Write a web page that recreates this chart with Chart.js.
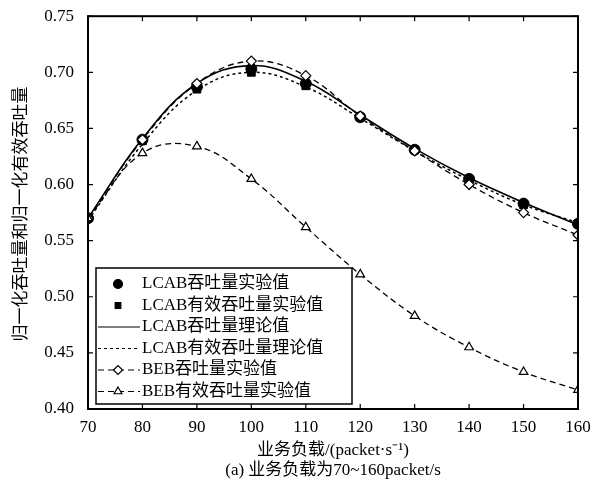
<!DOCTYPE html>
<html>
<head>
<meta charset="utf-8">
<script src="https://cdn.jsdelivr.net/npm/chart.js@4.4.0/dist/chart.umd.min.js"></script>
<style>
  html, body { margin: 0; padding: 0; background: #fff; }
  #wrap { width: 616px; height: 488px; }
</style>
</head>
<body>
<div id="wrap"><canvas id="chart" width="616" height="488"></canvas></div>
<script>
const loads = [70, 80, 90, 100, 110, 120, 130, 140, 150, 160];
const lcabExp = [0.570, 0.640, 0.687, 0.703, 0.690, 0.660, 0.631, 0.605, 0.583, 0.565];
const lcabEffExp = [0.570, 0.639, 0.685, 0.700, 0.688, 0.660, 0.631, 0.605, 0.582, 0.565];
const lcabTheory = [0.570, 0.641, 0.690, 0.706, 0.692, 0.662, 0.632, 0.606, 0.584, 0.564];
const lcabEffTheory = [0.568, 0.636, 0.684, 0.700, 0.687, 0.659, 0.630, 0.604, 0.582, 0.566];
const bebExp = [0.570, 0.640, 0.690, 0.710, 0.697, 0.661, 0.630, 0.600, 0.575, 0.555];
const bebEffExp = [0.570, 0.628, 0.634, 0.605, 0.562, 0.520, 0.483, 0.455, 0.433, 0.417];

const yTicks = [0.40, 0.45, 0.50, 0.55, 0.60, 0.65, 0.70, 0.75];
const xTicks = [70, 80, 90, 100, 110, 120, 130, 140, 150, 160];

const FONT = '"Liberation Serif", "Noto Sans CJK SC", serif';
const pts = arr => loads.map((x, i) => ({ x: x, y: arr[i] }));

const legendItems = [
    { text: 'LCAB吞吐量实验值', marker: 'circle', fill: '#000', line: null },
    { text: 'LCAB有效吞吐量实验值', marker: 'rect', fill: '#000', line: null },
    { text: 'LCAB吞吐量理论值', marker: null, line: [] },
    { text: 'LCAB有效吞吐量理论值', marker: null, line: [3, 3] },
    { text: 'BEB吞吐量实验值', marker: 'rectRot', fill: '#fff', line: [6, 4] },
    { text: 'BEB有效吞吐量实验值', marker: 'triangle', fill: '#fff', line: [6, 4] }
];

const framePlugin = {
    id: 'frame',
    afterDraw(chart) {
        const ctx = chart.ctx;
        const a = chart.chartArea;
        const xs = chart.scales.x, ys = chart.scales.y;
        ctx.save();
        ctx.strokeStyle = '#000';
        ctx.lineWidth = 2;
        ctx.strokeRect(a.left, a.top, a.right - a.left, a.bottom - a.top);
        ctx.lineWidth = 1.2;
        ctx.beginPath();
        xTicks.forEach(v => {
            const px = xs.getPixelForValue(v);
            ctx.moveTo(px, a.bottom); ctx.lineTo(px, a.bottom - 5);
            ctx.moveTo(px, a.top); ctx.lineTo(px, a.top + 5);
        });
        yTicks.forEach(v => {
            const py = ys.getPixelForValue(v);
            ctx.moveTo(a.left, py); ctx.lineTo(a.left + 5, py);
            ctx.moveTo(a.right, py); ctx.lineTo(a.right - 5, py);
        });
        ctx.stroke();

        // legend box
        const bx = 96, by = 268, bw = 256, bh = 136;
        ctx.fillStyle = '#fff';
        ctx.fillRect(bx, by, bw, bh);
        ctx.lineWidth = 1.5;
        ctx.strokeRect(bx, by, bw, bh);
        ctx.font = '17px ' + FONT;
        ctx.textBaseline = 'middle';
        ctx.textAlign = 'left';
        legendItems.forEach((it, i) => {
            const cy = by + 16 + i * 21.5;
            const mx = 118;
            if (it.line) {
                ctx.beginPath();
                ctx.setLineDash(it.line);
                ctx.lineWidth = 1.2;
                ctx.moveTo(bx + 2, cy); ctx.lineTo(bx + 44, cy);
                ctx.stroke();
                ctx.setLineDash([]);
            }
            if (it.marker) {
                ctx.fillStyle = it.fill;
                ctx.lineWidth = 1.2;
                Chart.helpers.drawPoint(ctx, { pointStyle: it.marker, radius: it.marker === 'rect' ? 4 : 4.5, rotation: 0, borderWidth: 1.2 }, mx, cy);
            }
            ctx.fillStyle = '#000';
            ctx.fillText(it.text, 142, cy);
        });

        // axis titles
        ctx.textAlign = 'center';
        ctx.font = '17px ' + FONT;
        ctx.fillText('业务负载/(packet·s⁻¹)', (a.left + a.right) / 2, 451);
        ctx.fillText('(a) 业务负载为70~160packet/s', (a.left + a.right) / 2, 471);
        ctx.translate(22, 214);
        ctx.rotate(-Math.PI / 2);
        ctx.fillText('归一化吞吐量和归一化有效吞吐量', 0, 0);
        ctx.restore();
    }
};

new Chart(document.getElementById('chart'), {
    type: 'line',
    data: {
        datasets: [
            {
                label: 'BEB有效吞吐量实验值',
                data: pts(bebEffExp),
                borderColor: '#000', borderWidth: 1.3, borderDash: [6, 4],
                pointStyle: 'triangle', pointRadius: 5, pointBackgroundColor: '#fff',
                pointBorderColor: '#000', pointBorderWidth: 1.2, tension: 0.4
            },
            {
                label: 'BEB吞吐量实验值',
                data: pts(bebExp),
                borderColor: '#000', borderWidth: 1.3, borderDash: [6, 4],
                pointStyle: 'rectRot', pointRadius: 5, pointBackgroundColor: '#fff',
                pointBorderColor: '#000', pointBorderWidth: 1.2, tension: 0.4
            },
            {
                label: 'LCAB有效吞吐量理论值',
                data: pts(lcabEffTheory),
                borderColor: '#000', borderWidth: 1.5, borderDash: [3, 3],
                pointRadius: 0, tension: 0.4
            },
            {
                label: 'LCAB吞吐量理论值',
                data: pts(lcabTheory),
                borderColor: '#000', borderWidth: 1.6,
                pointRadius: 0, tension: 0.4
            },
            {
                label: 'LCAB有效吞吐量实验值',
                data: pts(lcabEffExp),
                showLine: false, pointStyle: 'rect', pointRadius: 5.5,
                pointBackgroundColor: '#000', pointBorderColor: '#000'
            },
            {
                label: 'LCAB吞吐量实验值',
                data: pts(lcabExp),
                showLine: false, pointStyle: 'circle', pointRadius: 5.5,
                pointBackgroundColor: '#000', pointBorderColor: '#000'
            }
        ]
    },
    options: {
        responsive: false,
        animation: false,
        layout: { padding: { left: 0, right: 38, top: 15, bottom: 0 } },
        plugins: { legend: { display: false }, tooltip: { enabled: false } },
        scales: {
            x: {
                type: 'linear', min: 70, max: 160,
                afterBuildTicks: s => { s.ticks = xTicks.map(v => ({ value: v })); },
                afterFit: s => { s.height = 79; },
                grid: { display: false },
                border: { display: false },
                ticks: { color: '#000', font: { family: FONT, size: 17 }, padding: 0, maxRotation: 0 }
            },
            y: {
                min: 0.40, max: 0.75,
                afterBuildTicks: s => { s.ticks = yTicks.map(v => ({ value: v })); },
                afterFit: s => { s.width = 88; },
                grid: { display: false },
                border: { display: false },
                ticks: {
                    color: '#000', font: { family: FONT, size: 17 }, padding: 6,
                    callback: v => v.toFixed(2)
                }
            }
        }
    },
    plugins: [framePlugin]
});
</script>
</body>
</html>
